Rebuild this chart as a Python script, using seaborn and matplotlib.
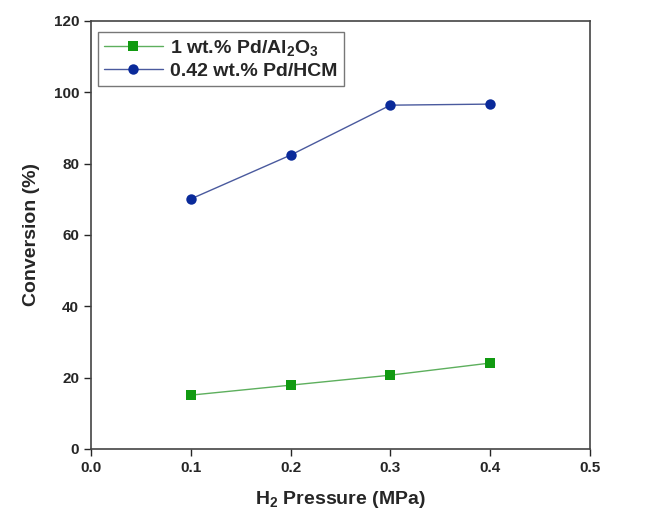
import pandas as pd
import matplotlib.pyplot as plt
import seaborn as sns

# data
pressure = [0.1, 0.2, 0.3, 0.4]
conv_al2o3 = [15.1, 17.9, 20.7, 24.1]
conv_hcm = [70.1, 82.4, 96.4, 96.7]
labels = ["1 wt.% Pd/Al$_2$O$_3$", "0.42 wt.% Pd/HCM"]

df = pd.DataFrame({
    "Pressure": pressure * 2,
    "Conversion": conv_al2o3 + conv_hcm,
    "Catalyst": [labels[0]] * 4 + [labels[1]] * 4,
})

sns.set_style("ticks")
plt.rcParams["font.family"] = ["Liberation Sans", "DejaVu Sans"]
plt.rcParams["mathtext.fontset"] = "custom"
plt.rcParams["mathtext.rm"] = "Liberation Sans:bold"
plt.rcParams["mathtext.it"] = "Liberation Sans:bold"

marker_cols = ["#119A11", "#0A2A9A"]
line_cols = ["#5DAF5D", "#4A5A9E"]

fig = plt.figure(figsize=(6.7, 5.18), dpi=100)
ax = fig.add_axes([91 / 670, 1 - 449 / 518, 499 / 670, 428 / 518])

sns.lineplot(data=df, x="Pressure", y="Conversion", hue="Catalyst", style="Catalyst",
             palette=marker_cols, markers=["s", "o"], dashes=False,
             markersize=7.5, linewidth=1, markeredgewidth=0, ax=ax)

ax.set_xlim(0, 0.5)
ax.set_ylim(0, 120)
ax.set_xticks([0.0, 0.1, 0.2, 0.3, 0.4, 0.5])
ax.set_yticks(range(0, 121, 20))
ax.xaxis.set_major_formatter(plt.FormatStrFormatter("%.1f"))
ax.tick_params(labelsize=11, width=1, length=5, direction="out")
for lbl in ax.get_xticklabels() + ax.get_yticklabels():
    lbl.set_fontweight("bold")
for s in ax.spines.values():
    s.set_visible(True)
    s.set_color("#444444")
    s.set_linewidth(1.2)

ax.set_xlabel("H$_2$ Pressure (MPa)", fontsize=14, fontweight="bold", labelpad=10)
ax.set_ylabel("Conversion (%)", fontsize=14, fontweight="bold", labelpad=10)

leg = ax.legend(loc="upper left", bbox_to_anchor=(0.015, 0.975),
                prop={"weight": "bold", "size": 14}, frameon=True, fancybox=False,
                edgecolor="#555555", handlelength=3, handletextpad=0.4,
                borderpad=0.3, labelspacing=0.25, borderaxespad=0)
leg.get_frame().set_linewidth(1)

# lighter connecting lines, darker markers
for ln in list(ax.lines) + list(leg.get_lines()):
    c = ln.get_color()
    for mc, lc in zip(marker_cols, line_cols):
        if c == mc:
            ln.set_markerfacecolor(mc)
            ln.set_markeredgecolor(mc)
            ln.set_color(lc)

fig.savefig("out.png", dpi=100)
